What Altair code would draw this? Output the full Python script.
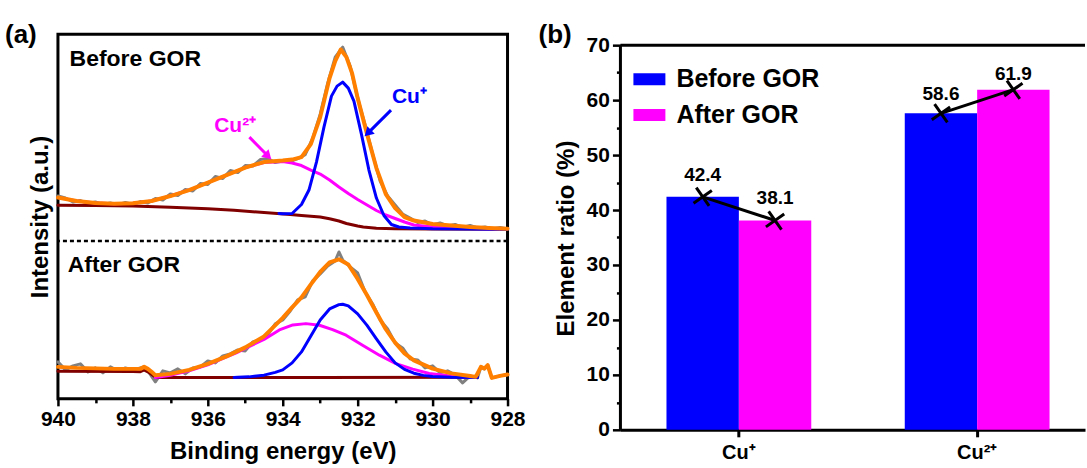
import altair as alt
import pandas as pd

FONT = "Liberation Sans"

# ---------------- panel (a): Cu 2p XPS (intensity in arbitrary units) ----------------
# Before GOR - raw spectrum
before_raw_e = [940.0, 939.8, 939.6, 939.4, 939.2, 939.0, 938.8, 938.6, 938.4, 938.2,
                938.0, 937.8, 937.6, 937.4, 937.2, 937.0, 936.8, 936.6, 936.4, 936.2,
                936.0, 935.8, 935.6, 935.4, 935.2, 935.0, 934.8, 934.6, 934.4, 934.2,
                934.0, 933.8, 933.6, 933.4, 933.2, 933.0, 932.8, 932.6, 932.4, 932.2,
                932.0, 931.8, 931.6, 931.4, 931.2, 931.0, 930.8, 930.6, 930.4, 930.2,
                930.0, 929.8, 929.6, 929.4, 929.2, 929.0, 928.8, 928.6, 928.4, 928.2, 928.0]
before_raw_i = [208, 206, 202, 203.5, 200.5, 202, 199.5, 201, 199, 201.5,
                199.5, 202.5, 201, 205.5, 204, 210, 208.5, 214.5, 213, 220.5,
                219.5, 227.5, 225.5, 233.5, 231.5, 238.5, 238, 244.5, 245.5, 241.5,
                243, 242.5, 245.5, 249.5, 266, 290, 321, 347, 357, 338,
                306, 279, 250, 223, 208, 199, 190, 186, 181.5, 183,
                179, 181, 178, 179.5, 176.5, 178.5, 176, 177, 175, 176.5, 175]
# Before GOR - envelope fit
before_fit_e = [940.0, 939.5, 939.0, 938.5, 938.0, 937.5, 937.0, 936.5, 936.0, 935.5,
                935.0, 934.5, 934.0, 933.75, 933.5, 933.25, 933.0, 932.75, 932.6, 932.45,
                932.3, 932.15, 932.0, 931.75, 931.5, 931.25, 931.0, 930.75, 930.5, 930.0,
                929.5, 929.0, 928.5, 928.0]
before_fit_i = [206.5, 203, 201, 200.3, 200.8, 203, 208, 214, 221.5, 229,
                236.5, 242, 243.5, 244.5, 247, 260, 287, 326, 343, 354.7,
                347, 331, 306, 270, 236, 210, 196, 187, 183.5, 180,
                178.5, 177, 176, 175.3]
# Before GOR - Cu+ component
before_cu1_e = [934.1, 934.0, 933.75, 933.5, 933.3, 933.1, 932.9, 932.7, 932.55,
                932.4, 932.25, 932.1, 931.9, 931.7, 931.5, 931.3, 931.1, 930.9, 930.6,
                930.0, 929.0, 928.0]
before_cu1_i = [190.6, 190.3, 190.5, 199.5, 214, 242, 277, 308, 318,
                322, 316, 303, 270, 234, 206, 188.5, 179.5, 177, 176,
                175.3, 175, 174.8]
# Before GOR - Cu2+ component
before_cu2_e = [940.0, 939.5, 939.0, 938.5, 938.0, 937.5, 937.0, 936.5, 936.0, 935.5,
                935.0, 934.5, 934.0, 933.75, 933.5, 933.25, 933.0, 932.75, 932.5, 932.25,
                932.0, 931.75, 931.5, 931.25, 931.0, 930.75, 930.5, 930.0, 929.5, 929.0, 928.0]
before_cu2_i = [206.5, 203, 201, 200.3, 200.8, 203, 208, 214, 221.5, 229,
                236.5, 241.5, 242.5, 241, 238.5, 234, 230, 224, 217, 210.5,
                204.5, 199, 193.5, 189, 185.5, 182, 179, 177, 176, 175.5, 175]
# Before GOR - background
before_bg_e = [940.0, 939.0, 938.0, 937.0, 936.0, 935.3, 934.5, 933.8, 933.5, 933.0,
               932.75, 932.5, 932.3, 932.0, 931.85, 931.5, 931.0, 930.0, 928.0]
before_bg_i = [198.7, 198.5, 198, 196.8, 195.2, 193.7, 191.5, 189.5, 188.6, 187,
               185.3, 183, 180.5, 178, 177, 175.8, 175.3, 175, 174.7]

# After GOR - raw spectrum
after_raw_e = [940.0, 939.8, 939.6, 939.4, 939.2, 939.0, 938.8, 938.6, 938.4, 938.2,
               938.0, 937.8, 937.7, 937.6, 937.4, 937.2, 937.0, 936.8, 936.6, 936.4,
               936.2, 936.0, 935.8, 935.6, 935.4, 935.2, 935.0, 934.8, 934.6, 934.4,
               934.2, 934.0, 933.8, 933.6, 933.4, 933.2, 933.0, 932.8, 932.6, 932.5,
               932.4, 932.2, 932.0, 931.8, 931.6, 931.4, 931.2, 931.0, 930.8, 930.6,
               930.4, 930.2, 930.0, 929.8, 929.6, 929.4, 929.2, 929.0, 928.8, 928.71,
               928.62, 928.53, 928.42, 928.2, 928.0]
after_raw_i = [42, 34, 38, 40, 32, 36, 31, 37, 33, 36,
               34, 36, 37, 33, 22, 33, 31, 35, 30, 36,
               37, 43, 41, 48, 50, 54, 53, 62, 64, 69,
               80, 84, 93, 104, 107, 123, 130, 138, 143, 152,
               144, 137, 131, 112, 100, 84, 75, 61, 56, 45,
               44, 36, 38, 31, 33, 29, 21, 28, 26, 37,
               35, 38.7, 26, 28, 29.3]
# After GOR - envelope fit
after_fit_e = [940.0, 939.5, 939.0, 938.5, 938.0, 937.8, 937.7, 937.6, 937.5, 937.4,
               937.0, 936.5, 936.0, 935.5, 935.0, 934.5, 934.0, 933.75, 933.5, 933.25,
               933.0, 932.75, 932.5, 932.25, 932.0, 931.75, 931.5, 931.25, 931.0, 930.75,
               930.5, 930.0, 929.5, 929.0, 928.85, 928.71, 928.62, 928.53, 928.42, 928.2, 928.0]
after_fit_i = [37, 36, 35.5, 35, 35, 35, 37, 35, 32, 28.7,
               30, 34, 40, 47.5, 56.5, 67.5, 86, 96.5, 106.5, 119.5,
               132, 141.5, 144.7, 139.5, 125, 108.7, 91.5, 74.7, 61.3, 50.5,
               43.5, 35.3, 30.5, 27.8, 27, 37, 35.3, 38.7, 26, 28, 29.3]
# After GOR - Cu+ component
after_cu1_e = [935.3, 935.2, 934.9, 934.5, 934.2, 934.0, 933.75, 933.5, 933.25,
               933.0, 932.75, 932.5, 932.4, 932.25, 932.0, 931.75, 931.5, 931.25, 931.0,
               930.75, 930.5, 930.25, 930.0, 929.5, 928.8]
after_cu1_i = [26.4, 26.5, 27, 28.7, 31.5, 34, 41, 52, 68,
               84, 95, 99.3, 99.7, 98, 90, 78.5, 65, 52, 41,
               34.5, 30.7, 28.5, 27.3, 26.6, 26.3]
# After GOR - Cu2+ component
after_cu2_e = [937.4, 937.0, 936.67, 936.5, 936.0, 935.5, 935.24, 935.0, 934.5, 934.09,
               933.73, 933.38, 933.02, 932.67, 932.31, 931.87, 931.42, 930.98, 930.53, 930.09,
               929.47, 928.84]
after_cu2_i = [26.3, 28.5, 31.5, 33, 39, 47, 51, 55.5, 64.5, 74,
               79, 80.3, 78.7, 74.3, 68.7, 58.7, 48.7, 40.3, 34.7, 30.3,
               27.7, 26.3]
# After GOR - background
after_bg_e = [940.0, 938.0, 937.8, 937.7, 937.6, 937.38, 933.0, 928.8]
after_bg_i = [32.7, 32.3, 32.2, 34, 32, 26.3, 26.4, 26.5]

separator_level = [163]

# annotations of panel (a)
ann_text = ["Before GOR", "After GOR"]
ann_text_e = [939.69, 939.74]
ann_text_i = [345, 139]

# Cu2+ label / arrow (magenta) and Cu+ label / arrow (blue)
cu2_label = ["Cu\u00b2\u207a"]
cu2_label_e = [935.27]
cu2_label_i = [278]
cu2_arrow = {"e1": [934.89], "i1": [267], "e2": [934.42], "i2": [249], "ang": [135]}
cu1_label = ["Cu\u207a"]
cu1_label_e = [930.62]
cu1_label_i = [307]
cu1_arrow = {"e1": [931.11], "i1": [294], "e2": [931.70], "i2": [272], "ang": [225]}

# ---------------- panel (b): element ratio ----------------
categories = ["Cu\u207a", "Cu\u00b2\u207a"]
series_names = ["Before GOR", "After GOR"]
before_ratio = [42.4, 57.6]
after_ratio = [38.1, 61.9]
before_text = ["42.4", "58.6"]
after_text = ["38.1", "61.9"]
before_text_y = [46.4, 61.2]
after_text_y = [42.1, 64.8]
ratio_axis_top = 70


def spec_frame(spectrum, e, i):
    return pd.DataFrame({"energy": e, "intensity": i, "spectrum": spectrum})


raw_df = pd.concat([spec_frame("before", before_raw_e, before_raw_i),
                    spec_frame("after", after_raw_e, after_raw_i)])
fit_df = pd.concat([spec_frame("before", before_fit_e, before_fit_i),
                    spec_frame("after", after_fit_e, after_fit_i)])
cu1_df = pd.concat([spec_frame("before", before_cu1_e, before_cu1_i),
                    spec_frame("after", after_cu1_e, after_cu1_i)])
cu2_df = pd.concat([spec_frame("before", before_cu2_e, before_cu2_i),
                    spec_frame("after", after_cu2_e, after_cu2_i)])
bg_df = pd.concat([spec_frame("before", before_bg_e, before_bg_i),
                   spec_frame("after", after_bg_e, after_bg_i)])

XS_A = alt.Scale(domain=[940, 928], nice=False, zero=False)
YS_A = alt.Scale(domain=[5, 370], nice=False, zero=False)

AX_A = alt.Axis(
    values=[940, 939, 938, 937, 936, 935, 934, 933, 932, 931, 930, 929, 928],
    labelExpr="datum.value % 2 === 0 ? datum.label : ''",
    tickSize={"condition": {"test": "datum.value % 2 === 0", "value": 7}, "value": 4},
    tickWidth=2.5, domain=False, grid=False, labelFontSize=21, labelPadding=3,
    labelOverlap=False, labelFlush=False, format="d", title="Binding energy (eV)",
    titleFontSize=24, titlePadding=10)
AY_A = alt.Axis(title="Intensity (a.u.)", labels=False, ticks=False, domain=False,
                grid=False, titleFontSize=24, titlePadding=5)


def xa(field):
    return alt.X(field, scale=XS_A, axis=AX_A)


def ya(field):
    return alt.Y(field, scale=YS_A, axis=AY_A)


def curve(df, color, width):
    return alt.Chart(df).mark_line(color=color, strokeWidth=width, strokeJoin="round",
                                   strokeCap="round").encode(
        x=xa("energy:Q"), y=ya("intensity:Q"), detail="spectrum:N")


def peak_note(label, le, li, arrow, color):
    tdf = pd.DataFrame({"t": label, "e": le, "i": li})
    adf = pd.DataFrame(arrow)
    txt = alt.Chart(tdf).mark_text(font=FONT, fontWeight="bold", fontSize=21,
                                   baseline="middle", color=color).encode(
        x=xa("e:Q"), y=ya("i:Q"), text="t:N")
    line = alt.Chart(adf).mark_rule(strokeWidth=3, color=color).encode(
        x=xa("e1:Q"), x2="e2:Q", y=ya("i1:Q"), y2="i2:Q")
    head = alt.Chart(adf).mark_point(shape="triangle", filled=True, size=110, opacity=1,
                                     color=color).encode(
        x=xa("e2:Q"), y=ya("i2:Q"), angle=alt.Angle("ang:Q", scale=None))
    return [txt, line, head]


sep = alt.Chart(pd.DataFrame({"level": separator_level})).mark_rule(
    color="black", strokeWidth=2.5, strokeDash=[4, 3]).encode(y=ya("level:Q"))

ann_df = pd.DataFrame({"t": ann_text, "e": ann_text_e, "i": ann_text_i})
ann = alt.Chart(ann_df).mark_text(font=FONT, fontWeight="bold", fontSize=23, align="left",
                                  baseline="middle", color="black").encode(
    x=xa("e:Q"), y=ya("i:Q"), text="t:N")

tag_a = alt.Chart(pd.DataFrame({"t": ["(a)"]})).mark_text(
    font=FONT, fontWeight="bold", fontSize=26, align="left", baseline="middle",
    color="black").encode(x=alt.value(-53), y=alt.value(1), text="t:N")

panel_a = alt.layer(
    curve(raw_df, "#808080", 3),
    curve(bg_df, "#800000", 3),
    curve(cu2_df, "#FF00FF", 3),
    curve(cu1_df, "#0000FF", 3),
    curve(fit_df, "#FF8000", 4),
    sep, ann,
    *peak_note(cu2_label, cu2_label_e, cu2_label_i, cu2_arrow, "#FF00FF"),
    *peak_note(cu1_label, cu1_label_e, cu1_label_i, cu1_arrow, "#0000FF"),
    tag_a,
).properties(width=450, height=365,
             view=alt.ViewBackground(stroke="black", strokeWidth=3))

# ---------------- panel (b) ----------------
bar_df = pd.DataFrame({
    "cat": categories + categories,
    "series": [series_names[0]] * 2 + [series_names[1]] * 2,
    "sidx": [0, 0, 1, 1],
    "value": before_ratio + after_ratio,
    "label": before_text + after_text,
    "label_y": before_text_y + after_text_y,
})

YS_B = alt.Scale(domain=[0, 72], nice=False, zero=True)
AY_B = alt.Axis(
    values=[0, 5, 10, 15, 20, 25, 30, 35, 40, 45, 50, 55, 60, 65, 70],
    labelExpr="datum.value % 10 === 0 ? datum.label : ''",
    tickSize={"condition": {"test": "datum.value % 10 === 0", "value": 8}, "value": 4},
    tickWidth=2.5, domain=False, grid=False, labelFontSize=21,
    labelPadding=3, labelOverlap=False, title="Element ratio (%)", titleFontSize=24,
    titlePadding=8, titleY=204)
AX_B = alt.Axis(title=None, labelAngle=0, tickSize=7, tickWidth=3, domain=True,
                domainWidth=3, grid=False, labelFontSize=20, labelPadding=6)

XB = alt.X("cat:N", sort=categories,
           scale=alt.Scale(domain=categories, paddingInner=0.3924, paddingOuter=0.171,
                           align=0.565),
           axis=AX_B)
XOFF = alt.XOffset("series:N", sort=series_names,
                   scale=alt.Scale(domain=series_names, paddingInner=0, paddingOuter=0))


def yb(field):
    return alt.Y(field, scale=YS_B, axis=AY_B)


bars = alt.Chart(bar_df).mark_bar().encode(
    x=XB, xOffset=XOFF, y=yb("value:Q"),
    color=alt.Color("series:N",
                    scale=alt.Scale(domain=series_names, range=["#0000FF", "#FF00FF"]),
                    legend=alt.Legend(title=None, orient="none", legendX=13, legendY=29,
                                      symbolType="M-1,-0.375H1V0.375H-1Z", symbolSize=1024,
                                      symbolStrokeWidth=0, labelFontSize=25, labelFont=FONT,
                                      labelFontWeight="bold", labelColor="black",
                                      labelOffset=11, rowPadding=7)))
link = alt.Chart(bar_df).mark_line(color="black", strokeWidth=3).encode(
    x=XB, xOffset=XOFF, y=yb("value:Q"), detail="cat:N", order="sidx:Q")
marks = alt.Chart(bar_df).mark_point(shape="M-1,-1L1,1M-1,1L1,-1", size=250, filled=False,
                                     color="black", strokeWidth=3, opacity=1,
                                     angle=10).encode(
    x=XB, xOffset=XOFF, y=yb("value:Q"))
vals = alt.Chart(bar_df).mark_text(font=FONT, fontWeight="bold", fontSize=19,
                                   baseline="middle", color="black").encode(
    x=XB, xOffset=XOFF, y=yb("label_y:Q"), text="label:N")
frame_df = pd.DataFrame({"lo": [0], "hi": [ratio_axis_top]})
top = alt.Chart(frame_df).mark_rule(color="black", strokeWidth=3).encode(y=yb("hi:Q"))
left = alt.Chart(frame_df).mark_rule(color="black", strokeWidth=3).encode(
    x=alt.value(0), y=yb("lo:Q"), y2="hi:Q")
tag_b = alt.Chart(pd.DataFrame({"t": ["(b)"]})).mark_text(
    font=FONT, fontWeight="bold", fontSize=26, align="left", baseline="middle",
    color="black").encode(x=alt.value(-82), y=alt.value(1), text="t:N")

panel_b = alt.layer(bars, link, marks, vals, top, left, tag_b).properties(
    width=465, height=396, view=alt.ViewBackground(stroke="transparent"))

chart = alt.hconcat(panel_a, panel_b, spacing=10).resolve_scale(
    color="independent"
).resolve_legend(
    color="independent"
).properties(
    padding={"left": 3, "top": 20, "right": 0, "bottom": 0}
).configure(font=FONT).configure_axis(
    labelFont=FONT, titleFont=FONT, labelFontWeight="bold", titleFontWeight="bold",
    labelColor="black", titleColor="black", tickColor="black", domainColor="black",
    grid=False
).configure_view(stroke="transparent")

chart.save("out.html", embed_options={"renderer": "svg", "actions": False})
